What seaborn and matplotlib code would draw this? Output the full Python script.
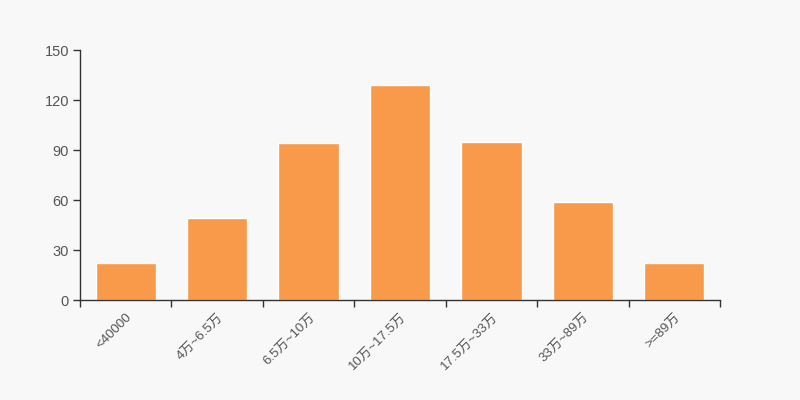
import numpy as np
import pandas as pd
import matplotlib
matplotlib.use("Agg")
import matplotlib.pyplot as plt
import seaborn as sns

categories = ["<40000", "4万~6.5万", "6.5万~10万", "10万~17.5万", "17.5万~33万", "33万~89万", ">=89万"]
counts = [22, 49, 94, 129, 95, 59, 22]

df = pd.DataFrame({"range": categories, "count": counts})

sns.set_style("white")
plt.rcParams["font.family"] = ["Liberation Sans", "Noto Sans CJK SC", "DejaVu Sans"]

fig = plt.figure(figsize=(8, 4), dpi=100, facecolor="#f8f8f8")
ax = fig.add_axes([0.1, 0.25, 0.8, 0.625])
ax.set_facecolor("#f8f8f8")

sns.barplot(data=df, x="range", y="count", color="#f89a4a", saturation=1,
            width=0.66, ax=ax)

ax.set_xlim(-0.5, 6.5)
ax.set_ylim(0, 150)
ax.set_yticks([0, 30, 60, 90, 120, 150])
ax.set_xlabel("")
ax.set_ylabel("")

for s in ["top", "right"]:
    ax.spines[s].set_visible(False)
for s in ["left", "bottom"]:
    ax.spines[s].set_color("#333333")
    ax.spines[s].set_linewidth(1)

ax.set_xticks(np.arange(-0.5, 7, 1), minor=True)
ax.tick_params(axis="x", which="major", bottom=True, length=0, pad=8, labelsize=9.5, labelcolor="#555555")
ax.tick_params(axis="x", which="minor", bottom=True, length=5, width=1, color="#333333", direction="out")
ax.tick_params(axis="y", left=True, length=5, width=1, color="#333333", direction="out",
               labelsize=10.5, labelcolor="#555555", pad=3)
plt.setp(ax.get_xticklabels(), rotation=45, ha="right", rotation_mode="anchor")

fig.savefig("out.png", dpi=100, facecolor=fig.get_facecolor())
